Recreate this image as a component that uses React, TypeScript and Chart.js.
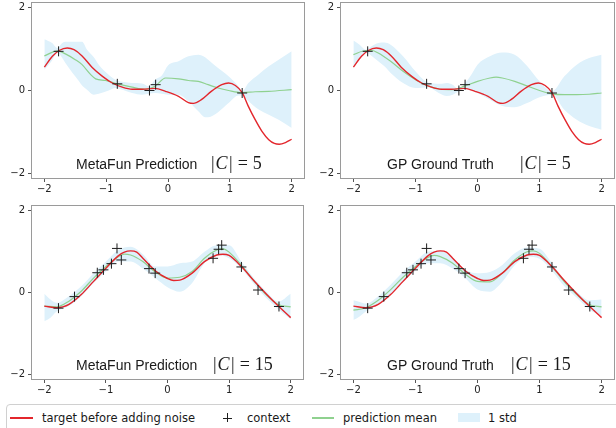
import React, { useEffect, useRef } from "react";
import { Chart, registerables } from "chart.js";
Chart.register(...registerables);

// ---------------- data ----------------
const X_TICKS = [-2, -1, 0, 1, 2];
const Y_TICKS = [-2, 0, 2];

// target (same function in both top panels)
const TARGET5_X = [-2, -1.87, -1.76, -1.63, -1.52, -1.39, -1.23, -1.06, -0.9, -0.74, -0.58, -0.42, -0.21, -0.04, 0.17, 0.33, 0.41, 0.54, 0.7, 0.87, 0.98, 1.09, 1.2, 1.3, 1.41, 1.52, 1.63, 1.72, 1.8, 1.9, 2.0];
const TARGET5_Y = [0.56, 0.82, 0.96, 1.02, 0.98, 0.83, 0.56, 0.34, 0.18, 0.08, 0.03, 0.03, 0.05, -0.02, -0.14, -0.29, -0.31, -0.22, -0.02, 0.14, 0.18, 0.12, -0.05, -0.38, -0.7, -0.98, -1.18, -1.27, -1.29, -1.25, -1.17];
const CONTEXT5_X = [-1.77, -0.82, -0.3, -0.2, 1.2];
const CONTEXT5_Y = [0.94, 0.16, 0.0, 0.14, -0.06];

// MetaFun, |C| = 5
const MF5_MEAN_X = [-2, -1.79, -1.66, -1.5, -1.39, -1.25, -1.17, -1.01, -0.82, -0.58, -0.36, -0.21, -0.04, 0.17, 0.33, 0.49, 0.65, 0.81, 0.98, 1.2, 1.41, 1.63, 2.0];
const MF5_MEAN_Y = [0.83, 0.95, 0.88, 0.74, 0.62, 0.38, 0.28, 0.24, 0.16, 0.08, 0.03, 0.1, 0.3, 0.28, 0.24, 0.22, 0.14, 0.06, 0.0, -0.05, -0.03, -0.02, 0.02];
const MF5_BAND_X = [-2, -1.875, -1.79, -1.71, -1.66, -1.44, -1.39, -1.31, -1.2, -1.12, -0.96, -0.85, -0.74, -0.58, -0.42, -0.31, -0.21, -0.1, 0.0, 0.17, 0.33, 0.49, 0.6, 0.65, 0.81, 0.98, 1.14, 1.2, 1.3, 1.46, 1.63, 1.79, 2.0];
const MF5_UPPER = [1.23, 1.14, 1.02, 1.14, 1.17, 1.17, 1.17, 0.98, 0.8, 0.62, 0.38, 0.26, 0.21, 0.18, 0.17, 0.1, 0.26, 0.36, 0.6, 0.7, 0.82, 0.86, 0.8, 0.74, 0.54, 0.34, 0.1, -0.02, 0.18, 0.38, 0.58, 0.74, 0.94];
const MF5_LOWER = [0.5, 0.72, 0.91, 0.78, 0.66, 0.22, 0.12, 0.02, -0.1, -0.08, 0.0, 0.06, 0.02, -0.06, -0.1, -0.08, -0.06, -0.08, -0.1, -0.1, -0.26, -0.5, -0.64, -0.64, -0.52, -0.3, -0.12, -0.12, -0.25, -0.45, -0.58, -0.7, -0.9];

// GP, |C| = 5
const GP5_MEAN_X = [-2, -1.8, -1.7, -1.6, -1.4, -1.2, -1.0, -0.8, -0.6, -0.4, -0.2, 0, 0.2, 0.3, 0.4, 0.6, 0.8, 1.0, 1.2, 1.4, 1.6, 1.8, 2.0];
const GP5_MEAN_Y = [0.86, 0.96, 0.96, 0.9, 0.7, 0.46, 0.26, 0.11, 0.03, 0.02, 0.11, 0.22, 0.3, 0.32, 0.3, 0.22, 0.11, 0.0, -0.08, -0.1, -0.1, -0.09, -0.06];
const GP5_BAND_X = [-2, -1.9, -1.8, -1.7, -1.6, -1.5, -1.4, -1.2, -1.0, -0.8, -0.6, -0.5, -0.4, -0.3, -0.2, -0.1, 0, 0.2, 0.4, 0.6, 0.8, 1.0, 1.2, 1.4, 1.6, 1.8, 2.0];
const GP5_UPPER = [1.2, 1.1, 0.98, 1.07, 1.14, 1.15, 1.1, 0.82, 0.46, 0.19, 0.16, 0.18, 0.14, 0.03, 0.18, 0.38, 0.62, 0.82, 0.91, 0.86, 0.59, 0.22, -0.02, 0.34, 0.62, 0.78, 0.86];
const GP5_LOWER = [0.58, 0.78, 0.91, 0.82, 0.7, 0.58, 0.42, 0.18, 0.06, 0.08, -0.08, -0.13, -0.1, -0.02, 0.06, 0.02, -0.06, -0.22, -0.37, -0.4, -0.3, -0.16, -0.1, -0.46, -0.7, -0.85, -0.94];

// target (same function in both bottom panels)
const TARGET15_X = [-2, -1.8, -1.7, -1.6, -1.4, -1.2, -1.0, -0.8, -0.7, -0.6, -0.5, -0.4, -0.2, 0, 0.1, 0.2, 0.4, 0.6, 0.8, 0.9, 1.0, 1.2, 1.4, 1.6, 1.8, 2.0];
const TARGET15_Y = [-0.33, -0.37, -0.35, -0.29, -0.05, 0.27, 0.59, 0.89, 0.98, 1.01, 0.98, 0.83, 0.53, 0.34, 0.29, 0.3, 0.47, 0.75, 0.91, 0.93, 0.9, 0.63, 0.29, -0.03, -0.33, -0.61];
const CONTEXT15_X = [-1.77, -1.51, -1.14, -1.04, -0.91, -0.82, -0.75, -0.3, -0.2, 0.74, 0.83, 0.88, 1.2, 1.47, 1.81];
const CONTEXT15_Y = [-0.38, -0.1, 0.48, 0.55, 0.7, 1.07, 0.79, 0.58, 0.47, 0.83, 1.05, 1.15, 0.62, 0.06, -0.34];

const BAND15_X = [-2, -1.9, -1.8, -1.6, -1.4, -1.2, -1.0, -0.8, -0.6, -0.4, -0.2, 0, 0.2, 0.4, 0.6, 0.8, 1.0, 1.2, 1.4, 1.6, 1.8, 2.0];
const MEAN15_X = [-2, -1.8, -1.6, -1.4, -1.2, -1.0, -0.8, -0.7, -0.6, -0.4, -0.2, 0, 0.2, 0.4, 0.6, 0.8, 0.9, 1.0, 1.2, 1.4, 1.6, 1.8, 2.0];

// MetaFun, |C| = 15
const MF15_MEAN_Y = [-0.33, -0.35, -0.21, 0.03, 0.35, 0.63, 0.87, 0.93, 0.91, 0.75, 0.5, 0.35, 0.37, 0.51, 0.83, 1.03, 1.06, 0.98, 0.66, 0.29, -0.05, -0.29, -0.35];
const MF15_UPPER = [-0.03, -0.17, -0.25, -0.09, 0.15, 0.47, 0.75, 1.03, 1.11, 0.93, 0.63, 0.63, 0.71, 0.75, 0.99, 1.15, 1.15, 0.75, 0.35, 0.03, -0.22, -0.03];
const MF15_LOWER = [-0.7, -0.61, -0.46, -0.33, -0.09, 0.23, 0.51, 0.75, 0.75, 0.58, 0.35, 0.13, 0.02, 0.23, 0.71, 0.91, 0.83, 0.58, 0.21, -0.13, -0.41, -0.65];

// GP, |C| = 15
const GP15_MEAN_Y = [-0.43, -0.37, -0.19, 0.07, 0.37, 0.63, 0.85, 0.9, 0.87, 0.71, 0.45, 0.27, 0.26, 0.47, 0.79, 0.99, 1.01, 0.95, 0.63, 0.26, -0.05, -0.29, -0.35];
const GP15_UPPER = [-0.19, -0.23, -0.27, -0.09, 0.19, 0.5, 0.75, 0.99, 1.01, 0.85, 0.55, 0.47, 0.5, 0.67, 0.95, 1.09, 1.06, 0.71, 0.31, 0.02, -0.19, -0.17];
const GP15_LOWER = [-0.67, -0.58, -0.46, -0.29, -0.05, 0.26, 0.53, 0.71, 0.71, 0.58, 0.35, 0.07, 0.02, 0.26, 0.66, 0.87, 0.82, 0.53, 0.15, -0.13, -0.41, -0.57];

// ---------------- styling ----------------
const RED = "#e3262c";
const GREEN = "#8fd18f";
const BAND = "#def1fb";
const MARK = "#1e1e1e";
const FRAME = "#9a9a9a";

const pts = (xs: number[], ys: number[]) => xs.map((x, i) => ({ x, y: ys[i] }));
const fmt = (v: number) => String(v).replace("-", "\u2212");

type PanelProps = {
  plotLeft: number;
  plotTop: number;
  plotW: number;
  plotH: number;
  targetX: number[];
  targetY: number[];
  meanX: number[];
  meanY: number[];
  bandX: number[];
  upper: number[];
  lower: number[];
  ctxX: number[];
  ctxY: number[];
  label: string;
  labelX: number;
  count: string;
  mathX: number;
  baseline: number;
};

function Panel(p: PanelProps) {
  const ref = useRef<HTMLCanvasElement | null>(null);
  const cLeft = p.plotLeft - 32;
  const cTop = p.plotTop - 3;
  const cW = p.plotW + 34;
  const cH = p.plotH + 3 + 18;

  useEffect(() => {
    if (!ref.current) return;
    const framePlugin = {
      id: "frame",
      afterDraw(chart: any) {
        const { ctx, chartArea: a } = chart;
        ctx.save();
        ctx.strokeStyle = FRAME;
        ctx.lineWidth = 1;
        ctx.strokeRect(a.left - 0.5, a.top - 0.5, a.right - a.left + 1, a.bottom - a.top + 1);
        // title text
        const bx = p.labelX - cLeft;
        const by = p.baseline - cTop;
        ctx.fillStyle = "#1a1a1a";
        ctx.textBaseline = "alphabetic";
        ctx.textAlign = "left";
        ctx.font = '14px "Liberation Sans", Arial, sans-serif';
        ctx.fillText(p.label, bx, by);
        const serif = '18px "Liberation Serif", "Times New Roman", serif';
        const serifIt = 'italic 18px "Liberation Serif", "Times New Roman", serif';
        let x = p.mathX - cLeft;
        const piece = (s: string, font: string, gapAfter: number) => {
          ctx.font = font;
          ctx.fillText(s, x, by);
          x += ctx.measureText(s).width + gapAfter;
        };
        piece("|", serif, 1);
        piece("C", serifIt, 1.5);
        piece("|", serif, 5);
        piece("=", serif, 5);
        piece(p.count, serif, 0);
        ctx.restore();
      },
    };

    const tickFont = { family: '"DejaVu Sans", sans-serif', size: 10 };
    const chart = new Chart(ref.current, {
      type: "line",
      data: {
        datasets: [
          {
            data: pts(p.ctxX, p.ctxY),
            showLine: false,
            pointStyle: "cross",
            pointRadius: 5,
            pointBorderColor: MARK,
            pointBorderWidth: 1,
            order: 0,
          } as any,
          {
            data: pts(p.targetX, p.targetY),
            borderColor: RED,
            borderWidth: 1.4,
            pointRadius: 0,
            cubicInterpolationMode: "monotone",
            fill: false,
            order: 1,
          },
          {
            data: pts(p.meanX, p.meanY),
            borderColor: GREEN,
            borderWidth: 1.2,
            pointRadius: 0,
            cubicInterpolationMode: "monotone",
            fill: false,
            order: 2,
          },
          {
            data: pts(p.bandX, p.upper),
            borderWidth: 0,
            borderColor: "rgba(0,0,0,0)",
            pointRadius: 0,
            cubicInterpolationMode: "monotone",
            fill: false,
            order: 4,
          },
          {
            data: pts(p.bandX, p.lower),
            borderWidth: 0,
            borderColor: "rgba(0,0,0,0)",
            backgroundColor: BAND,
            pointRadius: 0,
            cubicInterpolationMode: "monotone",
            fill: "-1",
            order: 3,
          },
        ],
      },
      options: {
        animation: false,
        responsive: false,
        devicePixelRatio: 1,
        events: [],
        layout: { autoPadding: false, padding: { left: 0, right: 2, top: 3, bottom: 0 } },
        plugins: { legend: { display: false }, tooltip: { enabled: false }, title: { display: false } },
        scales: {
          x: {
            type: "linear",
            min: -2.2,
            max: 2.2,
            afterBuildTicks: (s: any) => {
              s.ticks = X_TICKS.map((v) => ({ value: v }));
            },
            afterFit: (s: any) => {
              s.height = 18;
              s.paddingLeft = 0;
              s.paddingRight = 0;
              s.paddingTop = 0;
              s.paddingBottom = 0;
            },
            grid: { drawOnChartArea: false, drawTicks: true, tickLength: 4, tickColor: "#555" },
            border: { display: false },
            ticks: { font: tickFont, color: "#222", padding: 1, maxRotation: 0, autoSkip: false, callback: (v: any) => fmt(Number(v)) },
          },
          y: {
            type: "linear",
            min: -2.1,
            max: 2.1,
            afterBuildTicks: (s: any) => {
              s.ticks = Y_TICKS.map((v) => ({ value: v }));
            },
            afterFit: (s: any) => {
              s.width = 32;
              s.paddingLeft = 0;
              s.paddingRight = 0;
              s.paddingTop = 0;
              s.paddingBottom = 0;
            },
            grid: { drawOnChartArea: false, drawTicks: true, tickLength: 4, tickColor: "#555" },
            border: { display: false },
            ticks: { font: tickFont, color: "#222", padding: 3, autoSkip: false, callback: (v: any) => fmt(Number(v)) },
          },
        },
      } as any,
      plugins: [framePlugin],
    });
    return () => chart.destroy();
  }, []);

  return (
    <canvas
      ref={ref}
      width={cW}
      height={cH}
      style={{ position: "absolute", left: cLeft, top: cTop, width: cW, height: cH }}
    />
  );
}

const legendText: React.CSSProperties = {
  position: "absolute",
  top: 410,
  height: 16,
  lineHeight: "16px",
  fontFamily: '"DejaVu Sans", sans-serif',
  fontSize: 11.5,
  color: "#1a1a1a",
  whiteSpace: "nowrap",
};

export default function App() {
  return (
    <div style={{ position: "fixed", left: 0, top: 0, width: 616, height: 428, overflow: "hidden", background: "#fff" }}>
      <Panel plotLeft={32} plotTop={3} plotW={272} plotH={175}
        targetX={TARGET5_X} targetY={TARGET5_Y} meanX={MF5_MEAN_X} meanY={MF5_MEAN_Y}
        bandX={MF5_BAND_X} upper={MF5_UPPER} lower={MF5_LOWER} ctxX={CONTEXT5_X} ctxY={CONTEXT5_Y}
        label="MetaFun Prediction" labelX={76} count="5" mathX={211} baseline={169} />
      <Panel plotLeft={341} plotTop={3} plotW={273} plotH={175}
        targetX={TARGET5_X} targetY={TARGET5_Y} meanX={GP5_MEAN_X} meanY={GP5_MEAN_Y}
        bandX={GP5_BAND_X} upper={GP5_UPPER} lower={GP5_LOWER} ctxX={CONTEXT5_X} ctxY={CONTEXT5_Y}
        label="GP Ground Truth" labelX={387} count="5" mathX={520} baseline={169} />
      <Panel plotLeft={32} plotTop={206} plotW={271} plotH={173}
        targetX={TARGET15_X} targetY={TARGET15_Y} meanX={MEAN15_X} meanY={MF15_MEAN_Y}
        bandX={BAND15_X} upper={MF15_UPPER} lower={MF15_LOWER} ctxX={CONTEXT15_X} ctxY={CONTEXT15_Y}
        label="MetaFun Prediction" labelX={76} count="15" mathX={213} baseline={370} />
      <Panel plotLeft={341} plotTop={206} plotW={273} plotH={173}
        targetX={TARGET15_X} targetY={TARGET15_Y} meanX={MEAN15_X} meanY={GP15_MEAN_Y}
        bandX={BAND15_X} upper={GP15_UPPER} lower={GP15_LOWER} ctxX={CONTEXT15_X} ctxY={CONTEXT15_Y}
        label="GP Ground Truth" labelX={387} count="15" mathX={511} baseline={370} />

      {/* legend */}
      <div style={{ position: "absolute", left: 6, top: 404, width: 640, height: 40, border: "1px solid #d0d0d0", borderRadius: 4, background: "#fff", boxSizing: "border-box" }} />
      <div style={{ position: "absolute", left: 10, top: 417, width: 23, height: 1.5, background: RED }} />
      <div style={{ ...legendText, left: 42 }}>target before adding noise</div>
      <div style={{ position: "absolute", left: 223, top: 417.5, width: 9, height: 1, background: MARK }} />
      <div style={{ position: "absolute", left: 227, top: 413, width: 1, height: 9, background: MARK }} />
      <div style={{ ...legendText, left: 247 }}>context</div>
      <div style={{ position: "absolute", left: 312, top: 417, width: 22, height: 1.5, background: GREEN }} />
      <div style={{ ...legendText, left: 343 }}>prediction mean</div>
      <div style={{ position: "absolute", left: 458, top: 413, width: 22, height: 9, background: BAND }} />
      <div style={{ ...legendText, left: 488 }}>1 std</div>
    </div>
  );
}
